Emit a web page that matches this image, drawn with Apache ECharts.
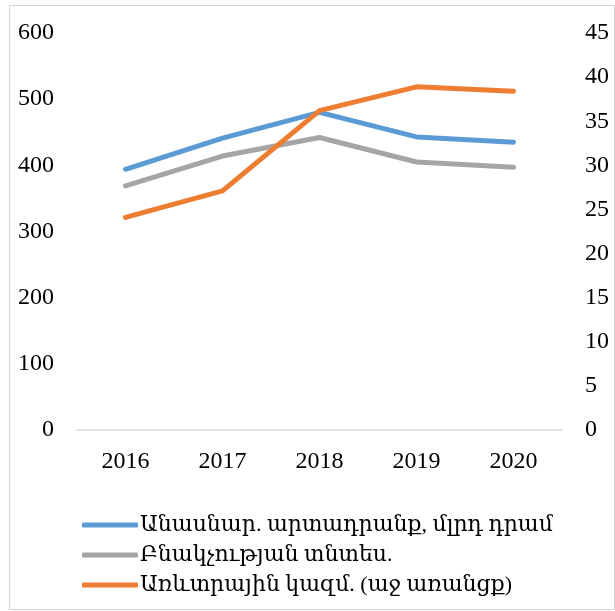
<!DOCTYPE html>
<html>
<head>
<meta charset="utf-8">
<script src="https://cdn.jsdelivr.net/npm/echarts@6/dist/echarts.min.js"></script>
<style>
  html, body { margin: 0; padding: 0; background: #fff; }
  #myChart { position: absolute; left: 0; top: 0; width: 615px; height: 611px; }
  #frame { position: absolute; left: 9px; top: 5px; width: 604px; height: 603px; border: 1.5px solid #d4d4d4; pointer-events: none; }
</style>
</head>
<body>
<div id="myChart"></div>
<div id="frame"></div>
<script>
const years = ["2016", "2017", "2018", "2019", "2020"];

const livestock = [394, 441, 480, 443, 435];
const households = [369, 414, 442, 405, 397];
const commercial = [24.1, 27.1, 36.2, 38.9, 38.4];

const seriesNames = [
    "Անասնար. արտադրանք, մլրդ դրամ",
    "Բնակչության տնտես.",
    "Առևտրային կազմ. (աջ առանցք)",
];

const fontFamily = "Liberation Serif, DejaVu Serif, serif";

const graphElem = document.getElementById("myChart");
const myChart = echarts.init(graphElem, null, { width: 615, height: 611 });

const makeLine = (name, data, color, axisIndex) => ({
    name: name,
    type: "line",
    data: data,
    yAxisIndex: axisIndex,
    symbol: "none",
    lineStyle: { color: color, width: 5, cap: "round", join: "round" },
    itemStyle: { color: color },
});

const axisText = { color: "#000", fontFamily: fontFamily, fontSize: 24, margin: 23 };

const options = {
    animation: false,
    grid: { left: 77, right: 53, top: 33, bottom: 181 },
    xAxis: {
        type: "category",
        data: years,
        boundaryGap: true,
        axisLine: { lineStyle: { color: "#d9d9d9", width: 1.5 } },
        axisTick: { show: false },
        axisLabel: { ...axisText, margin: 20 },
    },
    yAxis: [
        {
            type: "value",
            min: 0,
            max: 600,
            interval: 100,
            splitLine: { show: false },
            axisLine: { show: false },
            axisTick: { show: false },
            axisLabel: axisText,
        },
        {
            type: "value",
            min: 0,
            max: 45,
            interval: 5,
            splitLine: { show: false },
            axisLine: { show: false },
            axisTick: { show: false },
            axisLabel: axisText,
        },
    ],
    legend: {
        orient: "vertical",
        left: 77,
        top: 509,
        bottom: 0,
        icon: "roundRect",
        itemWidth: 56,
        itemHeight: 5,
        itemGap: 8,
        textStyle: { color: "#000", fontFamily: fontFamily, fontSize: 22, padding: [0, 0, 0, -3] },
        data: seriesNames,
    },
    series: [
        makeLine(seriesNames[0], livestock, "#5b9bd5", 0),
        makeLine(seriesNames[1], households, "#a5a5a5", 0),
        makeLine(seriesNames[2], commercial, "#ed7d31", 1),
    ],
};

myChart.setOption(options);
</script>
</body>
</html>
